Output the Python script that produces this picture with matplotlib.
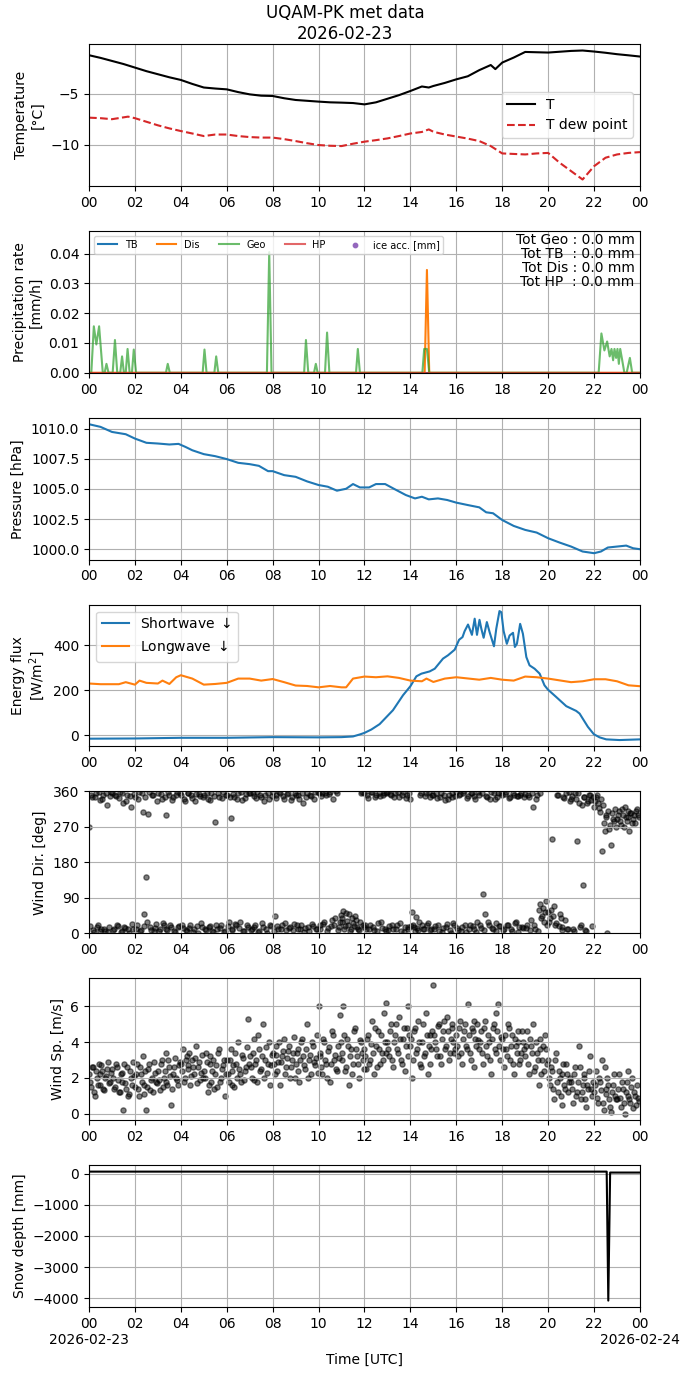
import matplotlib
matplotlib.use("Agg")
import matplotlib.pyplot as plt
import matplotlib.dates as mdates
from matplotlib.ticker import FuncFormatter
import numpy as np
import pandas as pd

DAY = pd.Timestamp("2026-02-23")

# --- temperature (hours, degC) ---
t_hours = [0, 0.5, 1, 1.5, 2, 2.5, 3, 3.5, 4, 4.5, 5, 5.5, 6, 6.5, 7, 7.5, 8, 8.5, 9, 9.5,
           10, 10.5, 11, 11.5, 12, 12.5, 13, 13.5, 14, 14.5, 14.8, 15, 15.5, 16, 16.5, 17,
           17.5, 17.7, 18, 18.5, 19, 19.5, 20, 20.5, 21, 21.5, 22, 22.5, 23, 23.5, 24]
t_air = [-1.24, -1.5, -1.8, -2.1, -2.45, -2.8, -3.1, -3.4, -3.66, -4.05, -4.4, -4.5, -4.58,
         -4.85, -5.07, -5.2, -5.23, -5.45, -5.62, -5.7, -5.78, -5.85, -5.88, -5.92, -6.05,
         -5.85, -5.5, -5.15, -4.74, -4.3, -4.4, -4.25, -3.95, -3.6, -3.3, -2.7, -2.2, -2.6,
         -1.96, -1.47, -0.92, -0.95, -0.98, -0.9, -0.82, -0.78, -0.88, -1.0, -1.14, -1.25, -1.37]
td_hours = [0, 0.5, 1, 1.7, 2, 2.5, 3, 3.5, 4, 4.5, 5, 5.5, 6, 6.5, 7, 7.5, 8, 8.5, 9, 9.5,
            10, 10.5, 11, 11.5, 12, 12.5, 13, 13.5, 14, 14.5, 14.8, 15, 15.5, 16, 16.5, 17,
            17.5, 18, 18.5, 19, 19.5, 20, 20.5, 21, 21.5, 22, 22.5, 23, 23.5, 24]
t_dew = [-7.35, -7.4, -7.5, -7.25, -7.4, -7.75, -8.1, -8.4, -8.66, -8.9, -9.15, -9.0, -9.0,
         -9.15, -9.25, -9.3, -9.3, -9.45, -9.64, -9.85, -10.03, -10.1, -10.13, -9.9, -9.7,
         -9.55, -9.38, -9.15, -8.9, -8.75, -8.5, -8.73, -9.0, -9.2, -9.4, -9.64, -10.13,
         -10.85, -10.9, -10.95, -10.85, -10.8, -11.76, -12.58, -13.4, -12.1, -11.27, -10.95,
         -10.8, -10.72]

# --- precipitation (hours, mm/h) ---
geo_hours = [0, 0.1, 0.21, 0.32, 0.44, 0.6, 0.68, 0.76, 0.85, 1.03, 1.13, 1.23, 1.36, 1.44,
             1.52, 1.6, 1.68, 1.77, 1.87, 1.95, 2.05, 3.35, 3.43, 3.52, 4.95, 5.03, 5.12,
             5.46, 5.54, 5.63, 7.75, 7.85, 7.95, 9.37, 9.45, 9.55, 9.8, 9.88, 9.96, 10.28,
             10.37, 10.47, 11.63, 11.71, 11.8, 14.52, 14.6, 14.72, 14.82, 22.2, 22.32, 22.45,
             22.57, 22.68, 22.76, 22.83, 22.89, 22.96, 23.02, 23.08, 23.14, 23.22, 23.32,
             23.42, 23.56, 23.66, 24]
geo_rate = [0, 0, 0.0156, 0.0095, 0.0156, 0, 0, 0.003, 0, 0, 0.011, 0, 0, 0.0055, 0, 0, 0.008,
            0, 0, 0.0078, 0, 0, 0.003, 0, 0, 0.0078, 0, 0, 0.0055, 0, 0, 0.0405, 0, 0, 0.011,
            0, 0, 0.003, 0, 0, 0.0135, 0, 0, 0.008, 0, 0, 0.008, 0.008, 0, 0, 0.0132, 0.0075,
            0.0105, 0.0055, 0.008, 0.0042, 0.008, 0.005, 0.008, 0.003, 0.008, 0.0045, 0, 0,
            0.005, 0, 0]
dis_hours = [0, 14.62, 14.72, 14.82, 24]
dis_rate = [0, 0, 0.0345, 0, 0]
tb_hours = [0, 24]
tb_rate = [0, 0]
hp_hours = [0, 24]
hp_rate = [0, 0]
totals = {"Geo": 0.0, "TB": 0.0, "Dis": 0.0, "HP": 0.0}

# --- pressure (hours, hPa) ---
p_hours = [0, 0.5, 1, 1.6, 2, 2.5, 3, 3.5, 3.9, 4.2, 4.5, 5, 5.5, 6, 6.5, 7, 7.4, 7.8, 8,
           8.5, 9, 9.5, 10, 10.4, 10.8, 11.2, 11.5, 11.8, 12.2, 12.5, 12.9, 13.3, 13.8, 14.2,
           14.5, 14.8, 15.2, 15.6, 16, 16.5, 17, 17.3, 17.6, 18, 18.5, 19, 19.5, 20, 20.5,
           21, 21.5, 22, 22.3, 22.6, 23, 23.4, 23.7, 24]
pressure = [1010.36, 1010.14, 1009.72, 1009.53, 1009.17, 1008.82, 1008.76, 1008.68, 1008.73,
            1008.48, 1008.2, 1007.88, 1007.71, 1007.47, 1007.16, 1007.05, 1006.91, 1006.47,
            1006.47, 1006.14, 1006.0, 1005.62, 1005.32, 1005.18, 1004.85, 1005.01, 1005.4,
            1005.12, 1005.12, 1005.4, 1005.4, 1004.99, 1004.49, 1004.21, 1004.35, 1004.13,
            1004.21, 1004.08, 1003.86, 1003.66, 1003.47, 1003.06, 1002.98, 1002.42, 1001.93,
            1001.6, 1001.38, 1000.91, 1000.55, 1000.22, 999.81, 999.67, 999.81, 1000.14,
            1000.22, 1000.3, 1000.08, 1000.0]

# --- radiation (hours, W/m2) ---
sw_hours = [0, 2, 4, 6, 8, 10, 11, 11.5, 11.8, 12.0, 12.3, 12.66, 13.24, 13.68, 14.0, 14.26,
            14.48, 14.84, 15.06, 15.42, 15.64, 15.93, 16.12, 16.27, 16.36, 16.51, 16.68, 16.8,
            16.9, 17.01, 17.09, 17.19, 17.33, 17.45, 17.64, 17.74, 17.88, 17.96, 18.06, 18.2,
            18.32, 18.47, 18.55, 18.64, 18.78, 18.9, 19.05, 19.19, 19.41, 19.63, 19.84, 19.99,
            20.35, 20.79, 21.22, 21.37, 21.73, 21.99, 22.24, 22.53, 23.11, 24]
shortwave = [-16, -15, -12, -12, -9, -10, -9, -6, 3, 10, 25, 49, 111, 178, 218, 262, 274, 284,
             296, 341, 356, 381, 425, 437, 463, 493, 447, 519, 447, 514, 474, 434, 504, 459,
             396, 474, 553, 548, 464, 407, 444, 456, 393, 407, 496, 452, 348, 311, 296, 274,
             222, 203, 170, 129, 108, 96, 37, 4, -10, -19, -22, -19]
lw_hours = [0, 0.5, 1.3, 1.6, 2, 2.2, 2.5, 3, 3.2, 3.5, 3.8, 4, 4.5, 5, 5.5, 6, 6.5, 7, 7.5,
            8, 8.5, 9, 9.5, 10, 10.5, 11, 11.2, 11.5, 12, 12.5, 13, 13.5, 14, 14.5, 14.7, 15,
            15.5, 16, 17, 17.5, 18, 18.5, 19, 19.5, 20, 21, 21.5, 22, 22.5, 23, 23.5, 24]
longwave = [230, 227, 227, 236, 225, 243, 233, 230, 243, 228, 258, 267, 252, 225, 228, 233,
            252, 252, 243, 250, 236, 221, 219, 213, 219, 213, 213, 252, 261, 258, 262, 255,
            243, 240, 252, 237, 252, 258, 247, 255, 247, 243, 261, 258, 252, 236, 240, 249,
            249, 240, 222, 218]

# --- wind: two sample sets, 12 per hour each (second set offset by 2.5 min) ---
wind_dir_a = [
    270, 352, 8, 345, 15, 358, 5, 340, 12, 355, 3, 348,
    355, 10, 348, 18, 358, 6, 330, 14, 352, 2, 320, 12,
    345, 20, 358, 9, 308, 48, 143, 303, 15, 350, 5, 24,
    356, 12, 340, 22, 301, 8, 352, 17, 346, 4, 358, 19,
    350, 14, 335, 6, 357, 20, 343, 10, 354, 2, 348, 16,
    352, 8, 340, 18, 356, 4, 282, 12, 345, 22, 358, 6,
    350, 28, 293, 10, 345, 20, 357, 30, 338, 5, 354, 15,
    356, 12, 348, 22, 359, 6, 345, 16, 352, 2, 340, 18,
    358, 44, 350, 12, 355, 20, 342, 8, 357, 16, 346, 24,
    352, 10, 340, 22, 330, 14, 355, 6, 348, 18, 358, 12,
    355, 20, 357, 30, 350, 14, 358, 35, 22, 360, 8, 28,
    40, 56, 18, 32, 50, 10, 25, 44, 15, 8, 355, 20,
    356, 12, 343, 20, 358, 8, 352, 25, 348, 14, 357, 6,
    359, 18, 350, 10, 356, 22, 345, 5, 358, 16, 352, 12,
    340, 55, 15, 42, 8, 350, 20, 12, 355, 25, 345, 10,
    350, 18, 343, 6, 357, 14, 338, 24, 352, 2, 346, 20,
    358, 8, 354, 16, 360, 4, 348, 22, 356, 12, 342, 30,
    352, 14, 100, 48, 345, 20, 358, 10, 340, 25, 355, 18,
    350, 12, 358, 22, 345, 6, 352, 30, 348, 16, 356, 14,
    354, 20, 345, 35, 320, 10, 352, 60, 75, 45, 30, 82,
    55, 40, 240, 70, 25, 350, 48, 15, 345, 35, 10, 358,
    340, 12, 355, 235, 330, 20, 123, 345, 6, 335, 350, 18,
    320, 345, 330, 308, 210, 280, 300, 0, 265, 225, 290, 315,
    290, 310, 275, 300, 320, 285, 295, 305, 280, 300, 310, 300,
]
wind_dir_b = [
    18, 346, 4, 356, 22, 338, 10, 350, 6, 325, 16, 359,
    8, 352, 20, 344, 3, 357, 15, 336, 11, 349, 24, 354,
    12, 342, 6, 355, 18, 347, 28, 358, 9, 351, 14, 337,
    5, 353, 26, 345, 12, 358, 20, 339, 7, 350, 16, 356,
    22, 342, 9, 357, 14, 350, 4, 336, 18, 353, 26, 346,
    10, 357, 16, 338, 6, 348, 21, 355, 13, 343, 3, 352,
    18, 347, 8, 353, 24, 340, 14, 358, 6, 344, 20, 355,
    9, 357, 16, 343, 4, 351, 25, 336, 12, 355, 20, 348,
    6, 344, 18, 358, 10, 349, 26, 353, 14, 338, 8, 356,
    20, 350, 12, 357, 4, 345, 16, 352, 24, 340, 10, 358,
    12, 348, 24, 356, 6, 353, 18, 342, 38, 355, 15, 46,
    30, 12, 52, 22, 6, 40, 18, 35, 10, 28, 358, 16,
    22, 352, 10, 359, 16, 345, 5, 356, 28, 350, 12, 357,
    8, 354, 20, 347, 12, 358, 26, 351, 4, 343, 16, 356,
    18, 22, 6, 14, 30, 355, 10, 348, 20, 358, 8, 352,
    12, 355, 22, 347, 4, 352, 16, 341, 8, 357, 26, 349,
    14, 352, 6, 357, 20, 344, 10, 355, 18, 348, 4, 359,
    22, 356, 8, 349, 28, 340, 14, 355, 6, 346, 18, 357,
    8, 354, 20, 343, 12, 357, 26, 349, 4, 352, 16, 345,
    14, 350, 8, 356, 22, 342, 5, 355, 40, 65, 55, 20,
    30, 60, 45, 20, 352, 18, 40, 8, 343, 355, 12, 336,
    348, 5, 340, 356, 15, 325, 345, 8, 330, 352, 338, 345,
    335, 350, 318, 342, 325, 260, 295, 310, 275, 305, 285, 270,
    300, 285, 315, 270, 295, 310, 260, 305, 290, 280, 315, 295,
]
wind_speed_a = [
    2.2, 1.5, 2.6, 1.0, 2.0, 2.8, 1.6, 2.4, 1.3, 2.1, 2.9, 1.8,
    2.5, 1.4, 2.8, 1.9, 1.2, 2.3, 0.2, 1.7, 2.6, 1.1, 2.0, 2.9,
    1.5, 2.8, 1.0, 2.2, 3.2, 1.6, 0.2, 2.5, 1.3, 2.0, 2.9, 1.8,
    2.4, 1.3, 3.0, 2.0, 3.4, 1.6, 2.6, 0.5, 2.2, 3.1, 1.9, 2.7,
    2.8, 3.6, 2.0, 3.2, 2.5, 1.6, 3.0, 2.2, 3.8, 2.6, 1.9, 3.3,
    2.4, 3.4, 1.2, 2.8, 1.8, 3.0, 2.2, 1.5, 3.6, 2.0, 2.7, 1.0,
    3.0, 1.8, 3.6, 2.4, 1.5, 2.8, 4.0, 2.2, 3.3, 1.9, 2.6, 5.3,
    3.2, 2.0, 4.2, 2.8, 1.8, 3.6, 2.5, 5.0, 3.0, 2.3, 4.0, 2.7,
    3.4, 2.2, 3.8, 2.9, 1.6, 3.2, 4.2, 2.6, 3.5, 2.0, 3.0, 4.3,
    2.8, 3.6, 1.8, 4.0, 3.2, 2.5, 5.0, 3.0, 2.2, 3.8, 2.7, 4.4,
    6.0, 3.2, 2.2, 4.0, 2.8, 3.5, 1.8, 4.6, 3.0, 2.5, 3.8, 5.5,
    3.4, 6.0, 2.4, 4.2, 1.6, 3.6, 2.8, 4.8, 3.2, 2.0, 4.0, 3.0,
    3.6, 2.5, 4.4, 3.0, 5.2, 2.2, 3.8, 4.6, 2.8, 3.4, 5.6, 6.2,
    4.0, 3.2, 5.0, 2.6, 4.4, 3.6, 5.4, 3.0, 4.2, 2.4, 4.8, 6.0,
    3.8, 2.0, 4.6, 3.4, 5.2, 2.8, 4.0, 3.2, 5.6, 2.2, 4.4, 3.6,
    7.2, 4.0, 3.2, 5.0, 2.8, 4.6, 3.6, 5.4, 3.0, 4.2, 4.8, 3.4,
    4.4, 3.2, 5.2, 2.8, 4.6, 3.8, 6.1, 3.4, 4.8, 2.6, 4.2, 5.0,
    3.6, 4.6, 2.8, 5.2, 3.2, 4.0, 2.2, 4.8, 3.6, 5.6, 6.1, 3.0,
    4.2, 2.6, 3.6, 5.0, 3.0, 4.4, 2.2, 3.8, 4.6, 2.8, 3.4, 4.0,
    3.2, 4.6, 2.2, 3.8, 5.0, 2.6, 3.4, 1.6, 4.2, 3.0, 2.4, 3.6,
    3.0, 1.6, 2.4, 0.8, 3.4, 1.2, 2.0, 0.5, 2.8, 1.4, 2.2, 1.8,
    1.8, 0.6, 2.6, 1.2, 3.8, 0.8, 1.6, 2.2, 0.4, 1.4, 3.2, 1.0,
    1.2, 2.4, 0.6, 1.8, 3.0, 0.2, 1.4, 2.0, 0.8, 0.1, 1.6, 1.0,
    0.8, 2.2, 0.4, 1.4, 0.0, 1.8, 1.0, 0.6, 2.0, 1.2, 0.5, 0.9,
]
wind_speed_b = [
    1.8, 2.6, 1.2, 2.4, 1.6, 2.2, 2.7, 1.4, 2.0, 2.5, 1.7, 2.3,
    2.0, 1.5, 2.6, 1.2, 2.2, 1.8, 2.8, 1.4, 1.0, 2.4, 1.6, 2.1,
    2.2, 1.4, 2.6, 1.8, 1.1, 2.4, 1.5, 2.8, 1.9, 1.2, 2.3, 1.7,
    1.9, 2.8, 1.5, 2.4, 1.8, 3.0, 2.1, 1.4, 2.6, 2.0, 1.6, 2.9,
    2.4, 1.8, 3.0, 2.7, 3.4, 2.1, 2.6, 3.1, 1.7, 2.9, 2.3, 2.0,
    2.0, 2.9, 1.6, 3.2, 2.4, 1.4, 2.7, 3.4, 1.8, 2.5, 3.0, 2.2,
    2.2, 3.0, 1.6, 2.7, 3.4, 2.0, 2.5, 1.8, 3.1, 2.4, 3.7, 2.8,
    2.6, 3.4, 1.9, 3.0, 4.4, 2.4, 3.2, 2.0, 3.7, 2.8, 1.6, 3.3,
    2.8, 3.3, 2.4, 4.0, 2.9, 3.5, 2.2, 3.1, 3.8, 2.6, 3.4, 2.0,
    3.4, 2.4, 3.0, 4.2, 2.7, 3.6, 2.0, 3.3, 4.0, 2.9, 3.1, 2.3,
    3.4, 2.6, 4.2, 3.0, 2.0, 3.7, 2.8, 4.4, 3.3, 2.4, 3.1, 4.0,
    3.0, 4.4, 2.6, 3.8, 3.2, 2.2, 4.6, 3.6, 2.8, 4.1, 3.4, 2.5,
    3.2, 4.2, 2.8, 3.9, 3.4, 4.8, 2.6, 3.6, 4.4, 3.0, 4.0, 3.4,
    3.6, 4.6, 3.0, 4.0, 5.0, 3.4, 4.2, 2.8, 4.8, 3.8, 3.2, 4.4,
    4.2, 3.0, 4.8, 3.6, 4.0, 2.6, 5.0, 3.4, 4.4, 3.8, 2.8, 4.6,
    4.4, 3.6, 4.9, 3.2, 4.2, 5.2, 3.8, 4.6, 3.4, 5.0, 4.0, 3.6,
    3.8, 4.8, 3.4, 4.2, 5.0, 3.6, 4.4, 3.0, 4.6, 5.2, 3.8, 4.1,
    4.0, 3.4, 4.8, 3.8, 4.4, 3.0, 4.2, 5.0, 3.4, 4.6, 3.8, 4.3,
    3.6, 4.4, 3.2, 4.8, 3.8, 2.8, 4.2, 3.4, 4.0, 3.0, 4.6, 3.6,
    3.8, 2.8, 4.2, 3.4, 2.4, 4.0, 3.0, 3.6, 2.2, 3.8, 4.4, 2.8,
    2.0, 2.6, 1.4, 3.0, 1.8, 2.4, 1.0, 2.2, 1.6, 2.8, 1.2, 2.0,
    1.4, 2.2, 1.0, 1.8, 2.6, 1.2, 2.0, 0.8, 1.6, 2.4, 1.4, 1.8,
    1.6, 0.9, 2.0, 1.3, 0.6, 2.6, 1.1, 1.6, 0.4, 1.2, 2.2, 0.8,
    1.4, 0.9, 1.8, 0.6, 1.2, 2.4, 0.8, 1.5, 0.3, 1.0, 1.6, 0.7,
]

# --- snow depth (hours, mm) ---
snow_hours = [0, 22.55, 22.62, 22.7, 24]
snow_depth = [70, 70, -4080, 40, 40]


def to_time(hours):
    return DAY + pd.to_timedelta(np.asarray(hours, dtype=float), unit="h")


wind_time_a = DAY + pd.to_timedelta(np.arange(len(wind_dir_a)) * 5.0, unit="min")
wind_time_b = DAY + pd.to_timedelta(np.arange(len(wind_dir_b)) * 5.0 + 2.5, unit="min")


def hour_fmt(x, pos=None):
    return mdates.num2date(x).strftime("%H")


def hour_date_fmt(x, pos=None):
    d = mdates.num2date(x)
    if d.hour == 0 and d.minute == 0:
        return d.strftime("%H\n%Y-%m-%d")
    return d.strftime("%H")


fig, axes = plt.subplots(7, 1, figsize=(6.9, 13.77), dpi=100)
fig.subplots_adjust(left=0.129, right=0.9275, top=0.968, bottom=0.0508, hspace=0.317)
fig.suptitle("UQAM-PK met data\n2026-02-23", fontsize=12, y=0.997)

ax = axes[0]
ax.plot(to_time(t_hours), t_air, color="k", lw=1.5, label="T")
ax.plot(to_time(td_hours), t_dew, color="tab:red", ls="--", lw=1.5, label="T dew point")
ax.set_ylabel("Temperature\n[°C]")
ax.legend(loc="center right")

ax = axes[1]
ax.plot(to_time(tb_hours), tb_rate, color="tab:blue", label="TB")
ax.plot(to_time(dis_hours), dis_rate, color="tab:orange", label="Dis")
ax.plot(to_time(geo_hours), geo_rate, color="tab:green", alpha=0.7, label="Geo")
ax.plot(to_time(hp_hours), hp_rate, color="tab:red", alpha=0.7, label="HP")
ax.scatter([], [], color="tab:purple", s=10, label="ice acc. [mm]")
ax.set_ylim(0, 0.0476)
ax.set_ylabel("Precipitation rate\n[mm/h]")
ax.legend(loc="upper left", ncol=5, fontsize=7)
txt = "\n".join([f"Tot Geo : {totals['Geo']:.1f} mm",
                 f"Tot TB  : {totals['TB']:.1f} mm",
                 f"Tot Dis : {totals['Dis']:.1f} mm",
                 f"Tot HP  : {totals['HP']:.1f} mm"])
ax.text(0.99, 0.985, txt, transform=ax.transAxes, ha="right", va="top", fontsize=10,
        linespacing=1.0)

ax = axes[2]
ax.plot(to_time(p_hours), pressure, color="tab:blue")
ax.set_ylabel("Pressure [hPa]")

ax = axes[3]
ax.plot(to_time(sw_hours), shortwave, color="tab:blue", label="Shortwave $\\downarrow$")
ax.plot(to_time(lw_hours), longwave, color="tab:orange", label="Longwave $\\downarrow$")
ax.set_ylabel("Energy flux\n[W/m$^2$]")
ax.legend(loc="upper left")

ax = axes[4]
for wt, wd in ((wind_time_a, wind_dir_a), (wind_time_b, wind_dir_b)):
    ax.scatter(wt, wd, color="k", alpha=0.5, s=14)
ax.set_ylim(0, 360)
ax.set_yticks([0, 90, 180, 270, 360])
ax.set_ylabel("Wind Dir. [deg]")

ax = axes[5]
for wt, ws in ((wind_time_a, wind_speed_a), (wind_time_b, wind_speed_b)):
    ax.scatter(wt, ws, color="k", alpha=0.5, s=14)
ax.set_ylabel("Wind Sp. [m/s]")

ax = axes[6]
ax.plot(to_time(snow_hours), snow_depth, color="k", lw=1.5)
ax.set_ylabel("Snow depth [mm]")
ax.set_xlabel("Time [UTC]")

for i, ax in enumerate(axes):
    ax.set_xlim(DAY, DAY + pd.Timedelta(hours=24))
    ax.xaxis.set_major_locator(mdates.HourLocator(byhour=range(0, 24, 2)))
    ax.xaxis.set_major_formatter(FuncFormatter(hour_date_fmt if i == 6 else hour_fmt))
    ax.grid(True)

fig.savefig("out.png", dpi=100)
